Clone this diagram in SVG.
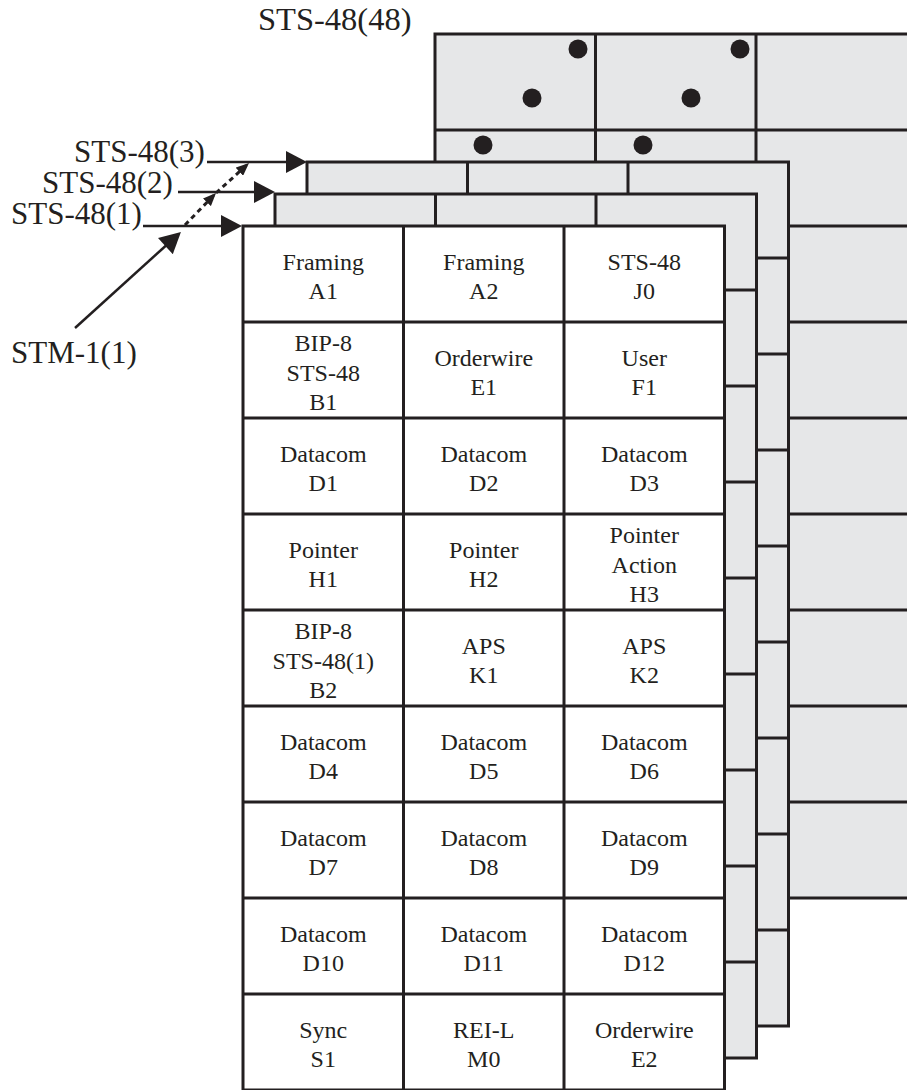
<svg xmlns="http://www.w3.org/2000/svg" xmlns:xlink="http://www.w3.org/1999/xlink" width="907" height="1090" viewBox="0 0 907 1090">
<style>
.frame-gray{fill:#e6e7e8;}
.frame-white{fill:#ffffff;}
.grid{fill:none;stroke:#231f20;stroke-width:3;}
.lbl{font-family:"Liberation Serif","Times New Roman",serif;font-size:31px;fill:#231f20;}
.lbl-big{font-size:32.5px;}
.cell{font-family:"Liberation Serif","Times New Roman",serif;font-size:24px;fill:#231f20;text-anchor:middle;}
.conn{stroke:#231f20;stroke-width:2.5;fill:none;}
.dot{stroke:#231f20;stroke-width:3;fill:none;stroke-dasharray:5 4;}
.bullet{fill:#231f20;}
</style>
<defs>
<g id="gridlines" class="grid">
<rect x="0" y="0" width="481.5" height="864"/>
<line x1="160.5" y1="0" x2="160.5" y2="864"/>
<line x1="321" y1="0" x2="321" y2="864"/>
<line x1="0" y1="96" x2="481.5" y2="96"/>
<line x1="0" y1="192" x2="481.5" y2="192"/>
<line x1="0" y1="288" x2="481.5" y2="288"/>
<line x1="0" y1="384" x2="481.5" y2="384"/>
<line x1="0" y1="480" x2="481.5" y2="480"/>
<line x1="0" y1="576" x2="481.5" y2="576"/>
<line x1="0" y1="672" x2="481.5" y2="672"/>
<line x1="0" y1="768" x2="481.5" y2="768"/>
</g>
<marker id="arr" markerUnits="userSpaceOnUse" markerWidth="22" markerHeight="22" viewBox="0 0 21 22" refX="5" refY="11" orient="auto">
<path d="M0,0 L21,11 L0,22 Z" fill="#231f20"/>
</marker>
<marker id="arrsmall" markerUnits="userSpaceOnUse" markerWidth="13" markerHeight="11" viewBox="0 0 13 11" refX="13" refY="5.5" orient="auto">
<path d="M0,0 L13,5.5 L0,11 Z" fill="#231f20"/>
</marker>
</defs>

<g id="frame-sts48-48">
<rect class="frame-gray" x="435" y="34" width="481.5" height="864"/>
<use xlink:href="#gridlines" x="435" y="34"/>
<circle class="bullet" cx="578" cy="49" r="9.5"/>
<circle class="bullet" cx="740" cy="49" r="9.5"/>
<circle class="bullet" cx="532" cy="98" r="9.5"/>
<circle class="bullet" cx="691" cy="98" r="9.5"/>
<circle class="bullet" cx="483" cy="145" r="9.5"/>
<circle class="bullet" cx="643" cy="145" r="9.5"/>
</g>
<g id="frame-sts48-3">
<rect class="frame-gray" x="307" y="162" width="481.5" height="864"/>
<use xlink:href="#gridlines" x="307" y="162"/>
</g>
<g id="frame-sts48-2">
<rect class="frame-gray" x="275" y="194" width="481.5" height="864"/>
<use xlink:href="#gridlines" x="275" y="194"/>
</g>
<g id="frame-sts48-1">
<rect class="frame-white" x="243" y="226" width="481.5" height="864"/>
<use xlink:href="#gridlines" x="243" y="226"/>
</g>

<g id="cells">
<g id="c-A1"><text class="cell"><tspan x="323.25" y="269.8">Framing</tspan><tspan x="323.25" y="299.3">A1</tspan></text></g>
<g id="c-A2"><text class="cell"><tspan x="483.75" y="269.8">Framing</tspan><tspan x="483.75" y="299.3">A2</tspan></text></g>
<g id="c-J0"><text class="cell"><tspan x="644.25" y="269.8">STS-48</tspan><tspan x="644.25" y="299.3">J0</tspan></text></g>

<g id="c-B1"><text class="cell"><tspan x="323.25" y="351">BIP-8</tspan><tspan x="323.25" y="380.5">STS-48</tspan><tspan x="323.25" y="410">B1</tspan></text></g>
<g id="c-E1"><text class="cell"><tspan x="483.75" y="365.8">Orderwire</tspan><tspan x="483.75" y="395.3">E1</tspan></text></g>
<g id="c-F1"><text class="cell"><tspan x="644.25" y="365.8">User</tspan><tspan x="644.25" y="395.3">F1</tspan></text></g>

<g id="c-D1"><text class="cell"><tspan x="323.25" y="461.8">Datacom</tspan><tspan x="323.25" y="491.3">D1</tspan></text></g>
<g id="c-D2"><text class="cell"><tspan x="483.75" y="461.8">Datacom</tspan><tspan x="483.75" y="491.3">D2</tspan></text></g>
<g id="c-D3"><text class="cell"><tspan x="644.25" y="461.8">Datacom</tspan><tspan x="644.25" y="491.3">D3</tspan></text></g>

<g id="c-H1"><text class="cell"><tspan x="323.25" y="557.8">Pointer</tspan><tspan x="323.25" y="587.3">H1</tspan></text></g>
<g id="c-H2"><text class="cell"><tspan x="483.75" y="557.8">Pointer</tspan><tspan x="483.75" y="587.3">H2</tspan></text></g>
<g id="c-H3"><text class="cell"><tspan x="644.25" y="543">Pointer</tspan><tspan x="644.25" y="572.5">Action</tspan><tspan x="644.25" y="602">H3</tspan></text></g>

<g id="c-B2"><text class="cell"><tspan x="323.25" y="639">BIP-8</tspan><tspan x="323.25" y="668.5">STS-48(1)</tspan><tspan x="323.25" y="698">B2</tspan></text></g>
<g id="c-K1"><text class="cell"><tspan x="483.75" y="653.8">APS</tspan><tspan x="483.75" y="683.3">K1</tspan></text></g>
<g id="c-K2"><text class="cell"><tspan x="644.25" y="653.8">APS</tspan><tspan x="644.25" y="683.3">K2</tspan></text></g>

<g id="c-D4"><text class="cell"><tspan x="323.25" y="749.8">Datacom</tspan><tspan x="323.25" y="779.3">D4</tspan></text></g>
<g id="c-D5"><text class="cell"><tspan x="483.75" y="749.8">Datacom</tspan><tspan x="483.75" y="779.3">D5</tspan></text></g>
<g id="c-D6"><text class="cell"><tspan x="644.25" y="749.8">Datacom</tspan><tspan x="644.25" y="779.3">D6</tspan></text></g>

<g id="c-D7"><text class="cell"><tspan x="323.25" y="845.8">Datacom</tspan><tspan x="323.25" y="875.3">D7</tspan></text></g>
<g id="c-D8"><text class="cell"><tspan x="483.75" y="845.8">Datacom</tspan><tspan x="483.75" y="875.3">D8</tspan></text></g>
<g id="c-D9"><text class="cell"><tspan x="644.25" y="845.8">Datacom</tspan><tspan x="644.25" y="875.3">D9</tspan></text></g>

<g id="c-D10"><text class="cell"><tspan x="323.25" y="941.8">Datacom</tspan><tspan x="323.25" y="971.3">D10</tspan></text></g>
<g id="c-D11"><text class="cell"><tspan x="483.75" y="941.8">Datacom</tspan><tspan x="483.75" y="971.3">D11</tspan></text></g>
<g id="c-D12"><text class="cell"><tspan x="644.25" y="941.8">Datacom</tspan><tspan x="644.25" y="971.3">D12</tspan></text></g>

<g id="c-S1"><text class="cell"><tspan x="323.25" y="1037.8">Sync</tspan><tspan x="323.25" y="1067.3">S1</tspan></text></g>
<g id="c-M0"><text class="cell"><tspan x="483.75" y="1037.8">REI-L</tspan><tspan x="483.75" y="1067.3">M0</tspan></text></g>
<g id="c-E2"><text class="cell"><tspan x="644.25" y="1037.8">Orderwire</tspan><tspan x="644.25" y="1067.3">E2</tspan></text></g>
</g>

<g id="labels">
<text id="lbl-sts48-48" class="lbl lbl-big" x="258" y="30">STS-48(48)</text>
<text id="lbl-sts48-3" class="lbl" x="74" y="162">STS-48(3)</text>
<text id="lbl-sts48-2" class="lbl" x="42" y="193">STS-48(2)</text>
<text id="lbl-sts48-1" class="lbl" x="11" y="224">STS-48(1)</text>
<text id="lbl-stm1-1" class="lbl" x="11" y="363">STM-1(1)</text>
</g>

<g id="connectors">
<line class="conn" x1="207" y1="162" x2="291" y2="162" marker-end="url(#arr)"/>
<line class="conn" x1="178" y1="192" x2="259" y2="192" marker-end="url(#arr)"/>
<line class="conn" x1="143" y1="226" x2="226" y2="226" marker-end="url(#arr)"/>
<line class="conn" x1="75" y1="328" x2="169.1" y2="242.7" marker-end="url(#arr)"/>
<line class="dot" x1="185" y1="225" x2="216" y2="193" marker-end="url(#arrsmall)"/>
<line class="dot" x1="216" y1="193" x2="249" y2="163" marker-end="url(#arrsmall)"/>
</g>
</svg>
